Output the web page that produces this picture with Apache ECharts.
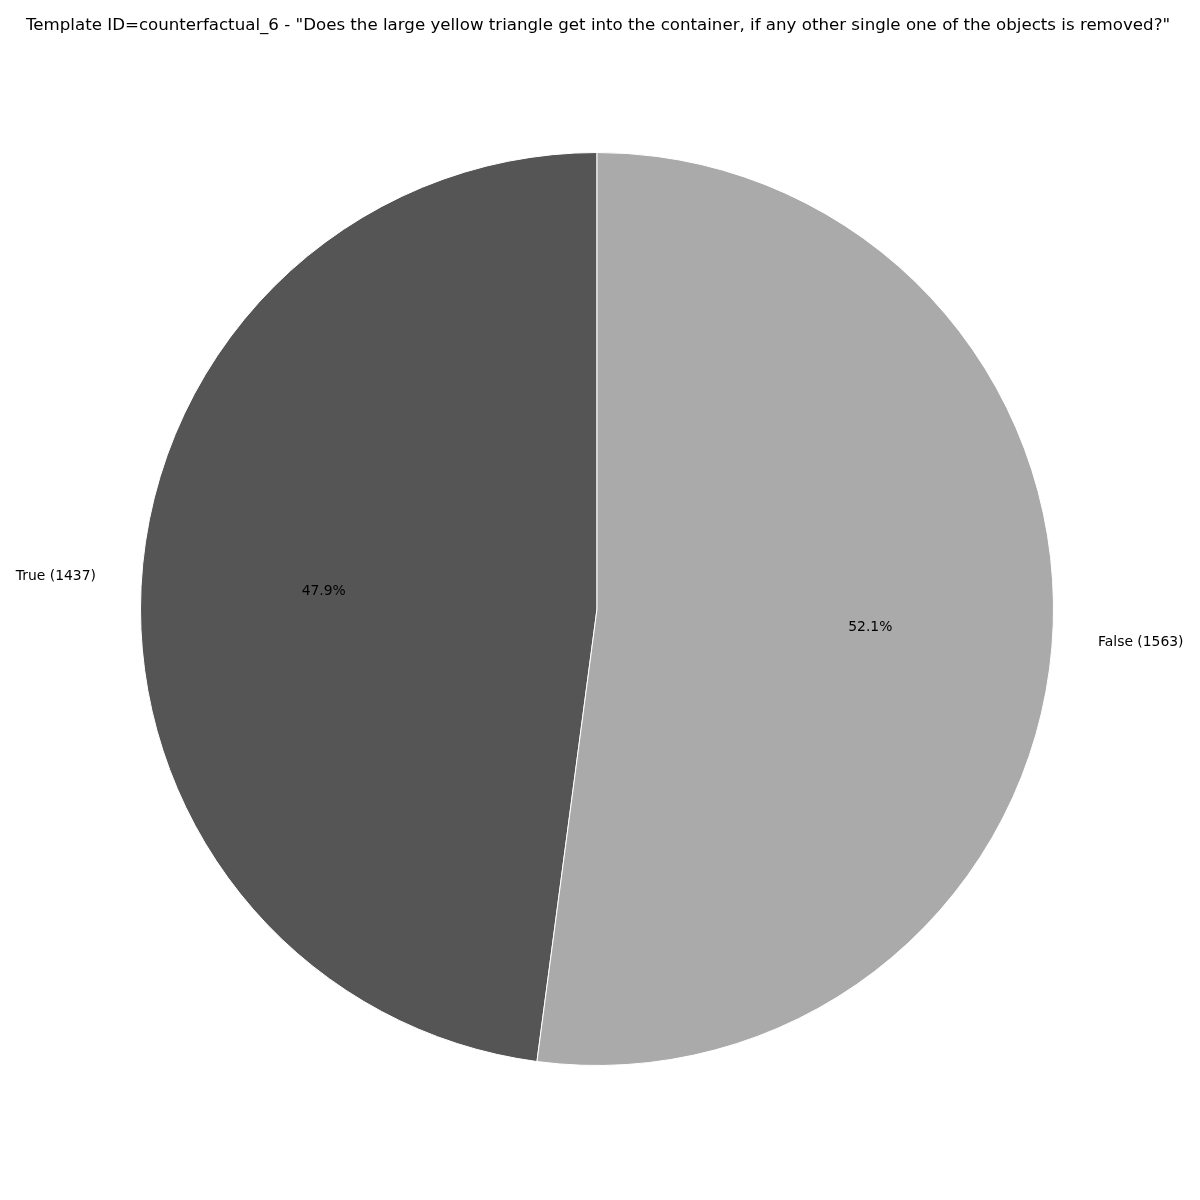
<!DOCTYPE html>
<html>
<head>
<meta charset="utf-8">
<script src="https://cdn.jsdelivr.net/npm/echarts@6/dist/echarts.min.js"></script>
<style>
  html, body { margin: 0; padding: 0; background: #fff; }
  #chart { width: 1200px; height: 1200px; }
</style>
</head>
<body>
<div id="chart"></div>
<script>
const titleText = 'Template ID=counterfactual_6 - "Does the large yellow triangle get into the container, if any other single one of the objects is removed?"';
const categories = ['True', 'False'];
const counts = [1437, 1563];
const colors = ['#555555', '#aaaaaa'];

const R = 456.5;
const center = [597, 609];
const font = 'DejaVu Sans';

const chart = echarts.init(document.getElementById('chart'));

const pieData = categories.map((name, i) => ({
  name: name,
  value: counts[i],
  itemStyle: { color: colors[i] }
}));

const ghostData = categories.map((name, i) => ({
  name: name,
  value: counts[i],
  itemStyle: { color: 'transparent' }
}));

const option = {
  animation: false,
  title: {
    text: titleText,
    left: 21,
    top: 12,
    textStyle: { fontFamily: font, fontSize: 16.65, fontWeight: 'normal', color: '#000' }
  },
  series: [
    {
      // wedges + outer category labels
      type: 'pie',
      center: center,
      radius: [0, R],
      startAngle: 90,
      clockwise: false,
      avoidLabelOverlap: false,
      silent: true,
      data: pieData,
      itemStyle: { borderColor: '#fff', borderWidth: 1 },
      label: {
        show: true,
        position: 'outside',
        distanceToLabelLine: 0,
        formatter: p => `${p.name} (${p.value})`,
        fontFamily: font,
        fontSize: 13.9,
        color: '#000'
      },
      labelLine: { show: false, length: R * 0.1, length2: 0 }
    },
    {
      // percentage labels at 0.6 R
      type: 'pie',
      center: center,
      radius: [R * 0.2 - 6, R],
      startAngle: 90,
      clockwise: false,
      silent: true,
      percentPrecision: 1,
      data: ghostData,
      itemStyle: { borderWidth: 0 },
      label: {
        show: true,
        position: 'inside',
        formatter: '{d}%',
        fontFamily: font,
        fontSize: 13.9,
        color: '#000'
      },
      labelLine: { show: false }
    }
  ]
};

chart.setOption(option);
</script>
</body>
</html>
